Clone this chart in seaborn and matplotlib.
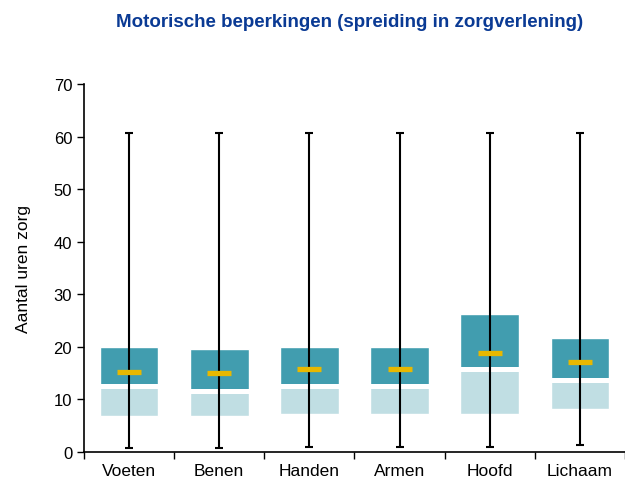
import numpy as np
import pandas as pd
import matplotlib
matplotlib.use("Agg")
import matplotlib.pyplot as plt
import seaborn as sns

# data (hours of care)
categories = ["Voeten", "Benen", "Handen", "Armen", "Hoofd", "Lichaam"]
whisker_low = [0.8, 0.8, 1.0, 1.0, 1.0, 1.3]
q1 = [6.9, 6.9, 7.2, 7.2, 7.2, 8.2]
median = [12.5, 11.55, 12.5, 12.5, 15.8, 13.7]
q3 = [19.9, 19.6, 19.9, 19.9, 26.2, 21.7]
mean = [15.3, 15.1, 15.7, 15.7, 18.8, 17.1]
whisker_high = [60.6, 60.6, 60.6, 60.6, 60.6, 60.6]

df = pd.DataFrame({
    "categorie": categories,
    "low": whisker_low, "q1": q1, "median": median,
    "q3": q3, "mean": mean, "high": whisker_high,
})
df["lower_h"] = df["median"] - df["q1"]
df["upper_h"] = df["q3"] - df["median"]

sns.set_style("white")
plt.rcParams["font.family"] = ["Liberation Sans", "DejaVu Sans"]
plt.rcParams["text.color"] = "black"
plt.rcParams["axes.labelcolor"] = "black"
plt.rcParams["xtick.color"] = "black"
plt.rcParams["ytick.color"] = "black"

light = "#c0dee3"
dark = "#419daf"
gold = "#e8b800"

fig = plt.figure(figsize=(6.25, 4.85), dpi=100)
ax = fig.add_axes([0.1344, 0.066, 0.8656, 0.7588])

box_w = 0.65
sns.barplot(data=df, x="categorie", y="lower_h", bottom=df["q1"], color=light,
            width=box_w, saturation=1, ax=ax, zorder=2)
sns.barplot(data=df, x="categorie", y="upper_h", bottom=df["median"], color=dark,
            width=box_w, saturation=1, ax=ax, zorder=2)

pos = np.arange(len(categories))
# white separation at the median
ax.hlines(df["median"], pos - box_w / 2, pos + box_w / 2, colors="white",
          linewidth=3.6, zorder=3)

# whiskers
mid = (df["low"] + df["high"]) / 2
ax.errorbar(pos, mid, yerr=[mid - df["low"], df["high"] - mid], fmt="none",
            ecolor="black", elinewidth=1.5, capsize=3, capthick=1.5, zorder=4)

# mean markers
ax.plot(pos, df["mean"], linestyle="none", marker="_", markersize=17,
        markeredgewidth=3.8, color=gold, zorder=5)

ax.set_xlim(-0.5, 5.5)
ax.set_ylim(0, 70)
ax.set_yticks(range(0, 71, 10))
ax.set_xticks(np.arange(-0.5, 6, 1))
ax.set_xticklabels([])
ax.set_xticks(pos, minor=True)
ax.set_xticklabels(categories, minor=True)
ax.tick_params(axis="x", which="major", direction="out", length=5, width=1, color="black", bottom=True)
ax.tick_params(axis="x", which="minor", length=0, labelsize=12.5, pad=8)
ax.tick_params(axis="y", direction="out", length=5, width=1, color="black", left=True, labelsize=12)

ax.set_xlabel("")
ax.set_ylabel("Aantal uren zorg", fontsize=12.5, labelpad=16)

sns.despine(ax=ax)
for s in ["left", "bottom"]:
    ax.spines[s].set_color("black")
    ax.spines[s].set_linewidth(1.2)

fig.text(0.559, 0.953, "Motorische beperkingen (spreiding in zorgverlening)",
         ha="center", va="center", fontsize=13.5, fontweight="bold", color="#0a3a94")

fig.savefig("out.png", dpi=100)
